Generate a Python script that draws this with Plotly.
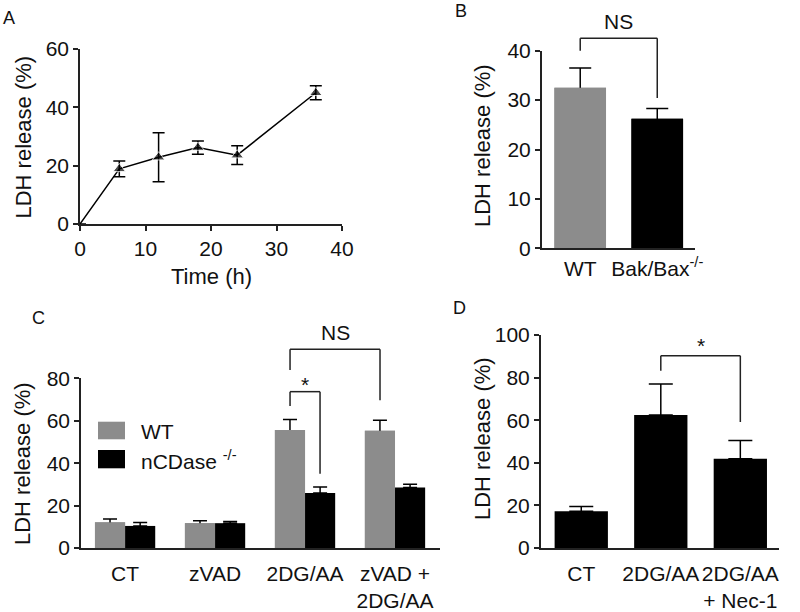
import plotly.graph_objects as go

# ---------------- data ----------------
# Panel A: time course
time_h = [0, 6, 12, 18, 24, 36]
ldh_time = [0, 18.9, 22.9, 26.2, 23.6, 45.0]
ldh_time_err = [None, 2.7, 8.4, 2.3, 3.2, 2.4]

# Panel B
b_cats = ["WT", "Bak/Bax<sup>-/-</sup>"]
b_vals = [32.5, 26.2]
b_err = [4.0, 2.1]

# Panel C
c_cats = ["CT", "zVAD", "2DG/AA", "zVAD +<br>2DG/AA"]
c_wt = [12.1, 11.7, 55.6, 55.3]
c_wt_err = [1.6, 1.1, 5.0, 4.9]
c_ko = [10.4, 11.7, 25.9, 28.5]
c_ko_err = [1.6, 0.8, 2.8, 1.5]

# Panel D
d_cats = ["CT", "2DG/AA", "2DG/AA<br>+ Nec-1"]
d_vals = [17.3, 62.4, 41.9]
d_err = [2.2, 14.6, 8.6]

# y-axis maxima
A_YMAX, B_YMAX, C_YMAX, D_YMAX = 60, 40, 80, 100

GRAY = "#8c8c8c"
BLACK = "#000000"
AX = "#222222"
TXT = "#111111"
FONT = "Liberation Sans, Arial, Helvetica, sans-serif"
W, H = 800, 612

def px(x):
    return x / W

def py(y):
    return 1 - y / H

def hidden_low(n, ymax):
    # lower error cap tucked just under the bar top (covered by the copy bar drawn above)
    return [ymax * 0.015] * n

fig = go.Figure()

# ---- A ----
fig.add_trace(go.Scatter(
    x=time_h, y=ldh_time, mode="lines+markers",
    line=dict(color=BLACK, width=1.5),
    marker=dict(symbol="triangle-up", size=[0, 11, 11, 11, 11, 11], color=BLACK),
    error_y=dict(type="data", array=ldh_time_err, color=BLACK, thickness=1.5, width=6),
    cliponaxis=False, showlegend=False, xaxis="x", yaxis="y"))

# ---- B ----  (second copy without error bars hides the lower error cap on the bar tops)
fig.add_trace(go.Bar(
    x=b_cats, y=b_vals, marker=dict(color=[GRAY, BLACK], line=dict(width=0)),
    error_y=dict(type="data", symmetric=False, array=b_err,
                 arrayminus=hidden_low(len(b_vals), B_YMAX),
                 color=BLACK, thickness=1.5, width=11),
    offsetgroup="b", showlegend=False, xaxis="x2", yaxis="y2"))
fig.add_trace(go.Bar(
    x=b_cats, y=b_vals, marker=dict(color=[GRAY, BLACK], line=dict(width=0)),
    offsetgroup="b", showlegend=False, hoverinfo="skip", xaxis="x2", yaxis="y2"))

# ---- C ----
fig.add_trace(go.Bar(
    x=c_cats, y=c_wt, name="WT", marker=dict(color=GRAY, line=dict(width=0)),
    error_y=dict(type="data", symmetric=False, array=c_wt_err,
                 arrayminus=hidden_low(len(c_wt), C_YMAX),
                 color=BLACK, thickness=1.5, width=7),
    offsetgroup="wt", showlegend=False, xaxis="x3", yaxis="y3"))
fig.add_trace(go.Bar(
    x=c_cats, y=c_wt, marker=dict(color=GRAY, line=dict(width=0)),
    offsetgroup="wt", showlegend=False, hoverinfo="skip", xaxis="x3", yaxis="y3"))
fig.add_trace(go.Bar(
    x=c_cats, y=c_ko, name="nCDase -/-", marker=dict(color=BLACK, line=dict(width=0)),
    error_y=dict(type="data", symmetric=False, array=c_ko_err, arrayminus=[0] * 4,
                 color=BLACK, thickness=1.5, width=7),
    offsetgroup="ko", showlegend=False, xaxis="x3", yaxis="y3"))

# ---- D ----
fig.add_trace(go.Bar(
    x=d_cats, y=d_vals, marker=dict(color=BLACK, line=dict(width=0)),
    error_y=dict(type="data", symmetric=False, array=d_err, arrayminus=[0] * 3,
                 color=BLACK, thickness=1.5, width=12),
    showlegend=False, xaxis="x4", yaxis="y4"))

tickfont = dict(family=FONT, size=21, color=TXT)

def yax(domain, rng, dtick, anchor):
    return dict(domain=domain, range=rng, dtick=dtick, tick0=0, showline=True,
                linecolor=AX, linewidth=1.5, ticks="outside", ticklen=5, tickwidth=1.5,
                tickcolor=AX, showgrid=False, zeroline=False, tickfont=tickfont,
                anchor=anchor, fixedrange=True, automargin=False)

def xcat(domain, rng, anchor, standoff):
    return dict(domain=domain, range=rng, type="category", showline=True,
                linecolor=AX, linewidth=1.5, ticks="outside", ticklen=standoff,
                tickcolor="rgba(0,0,0,0)", showgrid=False, zeroline=False,
                tickfont=tickfont, anchor=anchor, fixedrange=True,
                tickangle=0, automargin=False)

fig.update_layout(
    width=W, height=H, margin=dict(l=0, r=0, t=0, b=0, pad=0, autoexpand=False),
    paper_bgcolor="white", plot_bgcolor="white",
    font=dict(family=FONT, color=TXT),
    barmode="group", bargap=0.33, bargroupgap=0,
    xaxis=dict(domain=[px(80), px(342)], range=[0, 40], dtick=10, tick0=0,
               showline=True, linecolor=AX, linewidth=1.5, ticks="outside", ticklen=5,
               tickwidth=1.5, tickcolor=AX, showgrid=False, zeroline=False,
               tickfont=tickfont, anchor="y", fixedrange=True, automargin=False),
    yaxis=yax([py(224), py(49)], [0, A_YMAX], 20, "x"),
    xaxis2=xcat([px(541.7), px(695)], [-0.5, 1.49], "y2", 1),
    yaxis2=yax([py(248.3), py(50.7)], [0, B_YMAX], 10, "x2"),
    xaxis3=xcat([px(81), px(440)], [-0.49, 3.5], "y3", 6),
    yaxis3=yax([py(548), py(378.3)], [0, C_YMAX], 20, "x3"),
    xaxis4=xcat([px(540.7), px(779.3)], [-0.51, 2.49], "y4", 6),
    yaxis4=yax([py(548), py(335)], [0, D_YMAX], 20, "x4"),
)

# ---------------- brackets (x in category units, y as fraction of the axis) ----------------
def bracket(xref, yname, ymax, x0, x1, ytop, y0, y1):
    yref = yname + " domain"
    for (xa, ya, xb, yb) in [(x0, y0, x0, ytop), (x0, ytop, x1, ytop), (x1, ytop, x1, y1)]:
        fig.add_shape(type="line", xref=xref, yref=yref, x0=xa, y0=ya / ymax,
                      x1=xb, y1=yb / ymax, line=dict(color=AX, width=1.5))

bracket("x2", "y2", B_YMAX, 0, 1, 42.5, 40.0, 30.4)
bracket("x3", "y3", C_YMAX, 2 - 0.1667, 3 - 0.1667, 93.7, 83.9, 69.7)
bracket("x3", "y3", C_YMAX, 2 - 0.1667, 2 + 0.1667, 73.7, 66.9, 35.0)
bracket("x4", "y4", D_YMAX, 1, 2, 90.2, 83.2, 59.2)

labfont = dict(family=FONT, size=21, color=TXT)

def sig(xref, yname, ymax, x, y, text, shift):
    fig.add_annotation(xref=xref, yref=yname + " domain", x=x, y=y / ymax, yshift=shift,
                       text=text, showarrow=False, yanchor="bottom", font=labfont)

sig("x2", "y2", B_YMAX, 0.5, 42.5, "NS", 3)
sig("x3", "y3", C_YMAX, 2.333, 93.7, "NS", 3)
sig("x3", "y3", C_YMAX, 2.0, 73.7, "*", -6)
sig("x4", "y4", D_YMAX, 1.5, 90.2, "*", -3)

# ---------------- axis titles ----------------
titlefont = dict(family=FONT, size=22, color=TXT)
for (x, y) in [(23, 137.5), (482, 146), (22, 464), (482, 439)]:
    fig.add_annotation(xref="paper", yref="paper", x=px(x), y=py(y), text="LDH release (%)",
                       textangle=-90, showarrow=False, font=titlefont,
                       xanchor="center", yanchor="middle")
fig.add_annotation(xref="paper", yref="paper", x=px(211), y=py(277), text="Time (h)",
                   showarrow=False, font=titlefont, xanchor="center", yanchor="middle")

# ---------------- panel letters ----------------
letterfont = dict(family=FONT, size=18, color=TXT)
for (t, x, y) in [("A", 9, 18), ("B", 461, 11), ("C", 38, 318), ("D", 459, 308)]:
    fig.add_annotation(xref="paper", yref="paper", x=px(x), y=py(y), text=t,
                       showarrow=False, font=letterfont, xanchor="center", yanchor="middle")

# ---------------- legend (panel C) ----------------
fig.add_shape(type="rect", xref="paper", yref="paper", x0=px(98), x1=px(125),
              y0=py(439.3), y1=py(421.7), fillcolor=GRAY, line=dict(width=0))
fig.add_shape(type="rect", xref="paper", yref="paper", x0=px(98), x1=px(125),
              y0=py(468.3), y1=py(450), fillcolor=BLACK, line=dict(width=0))
fig.add_annotation(xref="paper", yref="paper", x=px(139), y=py(431), text="WT",
                   showarrow=False, font=labfont, xanchor="left", yanchor="middle")
fig.add_annotation(xref="paper", yref="paper", x=px(139), y=py(460),
                   text="nCDase <sup>-/-</sup>",
                   showarrow=False, font=labfont, xanchor="left", yanchor="middle")

fig.write_html("out.html", config={"displayModeBar": False},
               post_script="document.body.style.margin='0';")
